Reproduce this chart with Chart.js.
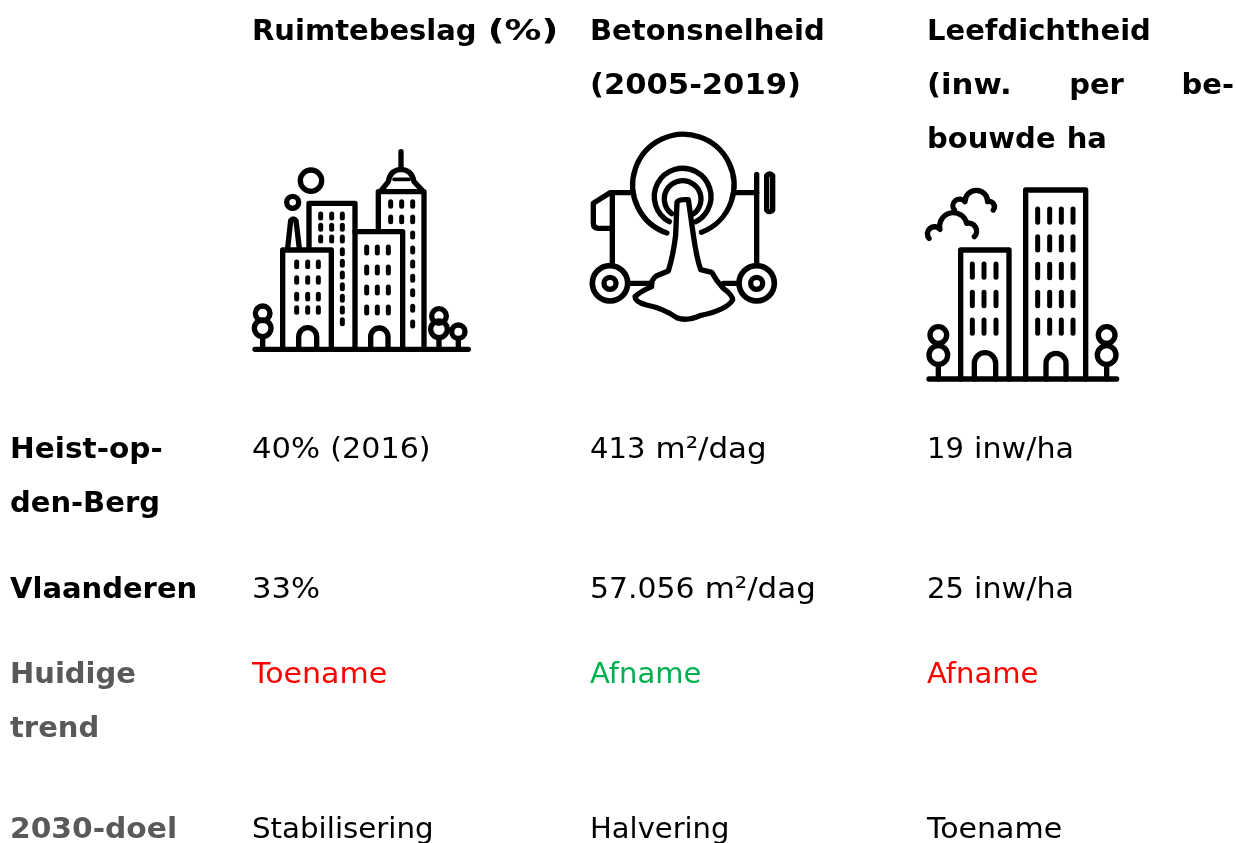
<!DOCTYPE html>
<html>
<head>
<meta charset="utf-8">
<title>Ruimtebeslag</title>
<script src="https://cdn.jsdelivr.net/npm/chart.js@4"></script>
<style>
  html, body { margin: 0; padding: 0; background: #fff; overflow: hidden; }
  canvas { display: block; }
</style>
</head>
<body>
<canvas id="table-chart" width="1236" height="843"></canvas>
<script>
// Table content
const columnHeads = [
  ['Ruimtebeslag (%)'],
  ['Betonsnelheid', '(2005-2019)'],
  ['Leefdichtheid', '(inw. per be-', 'bouwde ha']
];
const rowHeads = [['Heist-op-', 'den-Berg'], ['Vlaanderen'], ['Huidige', 'trend'], ['2030-doel']];
const ruimtebeslag = ['40% (2016)', '33%', 'Toename', 'Stabilisering'];
const betonsnelheid = ['413 m²/dag', '57.056 m²/dag', 'Afname', 'Halvering'];
const leefdichtheid = ['19 inw/ha', '25 inw/ha', 'Afname', 'Toename'];

// Layout, in page pixels
const colX = [10, 252, 590, 927];
const headY = 40;
const rowY = [458, 598, 683, 838];
const lineHeight = 54;
const justifyWidth = 307;
const wordGap = 1;
const bodyFont = '29px "DejaVu Sans"';
const boldFont = 'bold 29px "DejaVu Sans"';
const RED = '#ff0000', GREEN = '#00b050', GREY = '#58595b';
const trendColours = [RED, GREEN, RED];

// The original font runs wider on these words than DejaVu does
const wordStretch = {
  '(%)': 1.27, '(2005-2019)': 1.055, '2030-doel': 1.025, 'Heist-op-': 1.02, '(inw.': 1.06,
  '40%': 1.057, '33%': 1.057, '(2016)': 1.04, 'm²/dag': 1.065, 'inw/ha': 1.04, 'Toename': 1.035,
  '57.056': 1.03, 'Stabilisering': 1.01
};

// Icons are drawn on small canvases, at 3x, and used as point styles
function makeIcon(w, h, draw) {
  const c = document.createElement('canvas');
  c.width = w; c.height = h;
  const g = c.getContext('2d');
  g.filter = 'blur(0.4px)';
  g.scale(1 / 3, 1 / 3);
  g.strokeStyle = '#000';
  g.lineCap = 'round';
  g.lineJoin = 'round';
  draw(g);
  return c;
}
function path(g, d, lw) {
  g.lineWidth = lw || 16;
  g.stroke(new Path2D(d));
}
function pills(g, xs, ys, half) {
  g.lineWidth = 15;
  ys.forEach(y => xs.forEach(x => {
    g.beginPath(); g.moveTo(x, y - half); g.lineTo(x, y + half); g.stroke();
  }));
}
function ring(g, x, y, r, lw) {
  g.lineWidth = lw || 16;
  g.beginPath(); g.arc(x, y, r, 0, Math.PI * 2); g.stroke();
}
const rad = d => d * Math.PI / 180;

const cityIcon = makeIcon(240, 220, g => {
  path(g, 'M45 628H685');
  path(g, 'M128 628V330H274V628');
  path(g, 'M176 628V590A27 27 0 0 1 230 590V628');
  pills(g, [170, 203, 235], [373, 420, 470, 510], 7);
  path(g, 'M207 325V190H345V628');
  pills(g, [242, 275, 307], [228, 262, 297], 6);
  pills(g, [307], [335, 370, 405, 440, 475, 510, 545], 6);
  path(g, 'M345 275H488V628');
  path(g, 'M392 628V590A26 26 0 0 1 444 590V628');
  pills(g, [380, 412, 445], [330, 390, 450, 510], 9);
  path(g, 'M415 270V155H552V628');
  pills(g, [452, 485, 518], [192, 238], 7);
  pills(g, [518], [285, 330, 372, 415, 458, 505, 552], 6);
  path(g, 'M425 150L445 125Q450 90 483 88Q516 90 522 125L546 150');
  path(g, 'M462 118H508', 11);
  path(g, 'M483 35V85');
  path(g, 'M143 325L152 242Q160 232 168 242L178 325');
  ring(g, 158, 187, 18);
  ring(g, 213, 122, 32);
  ring(g, 68, 520, 22);
  ring(g, 68, 565, 25);
  path(g, 'M68 592V628');
  ring(g, 597, 528, 22);
  ring(g, 597, 568, 25);
  path(g, 'M597 595V628');
  ring(g, 655, 575, 20);
  path(g, 'M655 597V628');
});

const mixerIcon = makeIcon(210, 205, g => {
  g.lineWidth = 16;
  g.beginPath(); g.arc(310, 180, 152, rad(109), rad(69)); g.stroke();
  g.beginPath(); g.arc(308, 215, 85, rad(118), rad(62)); g.stroke();
  g.beginPath(); g.arc(308, 222, 55, rad(127), rad(53)); g.stroke();
  path(g, 'M291 232Q295 222 325 224L340 330Q350 400 362 434L395 442Q410 470 430 490Q458 510 458 525Q440 555 360 572Q320 590 290 578Q250 550 200 540Q165 530 165 515Q180 500 215 485Q212 465 230 452L265 438Q280 390 287 330Z');
  path(g, 'M155 203H90L40 235V295Q40 310 55 310H97');
  path(g, 'M97 203V420');
  path(g, 'M465 203H530');
  path(g, 'M530 148V420');
  path(g, 'M560 152Q568 142 578 152V255Q568 265 560 255Z');
  ring(g, 90, 475, 53, 17);
  ring(g, 90, 475, 18);
  ring(g, 530, 475, 53, 17);
  ring(g, 530, 475, 18);
  path(g, 'M148 475H215');
  path(g, 'M430 475H475');
});

const towersIcon = makeIcon(215, 210, g => {
  path(g, 'M42 597H605');
  path(g, 'M137 597V210H282V597');
  path(g, 'M178 597V550A32 32 0 0 1 242 550V597');
  pills(g, [172, 207, 243], [272, 357, 440], 20);
  path(g, 'M332 597V30H512V597');
  path(g, 'M393 597V550A30 30 0 0 1 453 550V597');
  pills(g, [368, 404, 439, 474], [107, 190, 273, 357, 440], 20);
  ring(g, 70, 465, 25);
  ring(g, 70, 525, 28);
  path(g, 'M70 555V597');
  ring(g, 575, 465, 25);
  ring(g, 575, 525, 28);
  path(g, 'M575 555V597');
  path(g, 'M42 175A18 18 0 0 1 75 148A41 41 0 0 1 155 130A24 24 0 0 1 178 170');
  path(g, 'M118 90A20 20 0 0 1 150 65A34 34 0 0 1 218 65A16 16 0 0 1 235 90');
});

// Build the cell list from the arrays above
const cells = [];
function addCell(x, y, text, font, color, justify) {
  cells.push({ x, y, text, font, color, justify: !!justify });
}
columnHeads.forEach((lines, c) => lines.forEach((line, i) => {
  addCell(colX[c + 1], headY + i * lineHeight, line, boldFont, '#000', line.startsWith('(inw'));
}));
rowHeads.forEach((lines, r) => lines.forEach((line, i) => {
  addCell(colX[0], rowY[r] + i * lineHeight, line, boldFont, r >= 2 ? GREY : '#000');
}));
[ruimtebeslag, betonsnelheid, leefdichtheid].forEach((vals, c) => vals.forEach((v, r) => {
  addCell(colX[c + 1], rowY[r], v, bodyFont, r === 2 ? trendColours[c] : '#000');
}));

const cellText = {
  id: 'cellText',
  afterDatasetsDraw(chart) {
    const ctx = chart.ctx;
    const pts = chart.getDatasetMeta(0).data;
    const wordWidth = w => ctx.measureText(w).width * (wordStretch[w] || 1);
    ctx.save();
    ctx.textBaseline = 'alphabetic';
    ctx.textAlign = 'left';
    cells.forEach((cell, i) => {
      ctx.font = cell.font;
      ctx.fillStyle = cell.color;
      const words = cell.text.split(' ');
      let gap = ctx.measureText(' ').width + wordGap;
      if (cell.justify) {
        // text-align: justify
        const used = words.reduce((s, w) => s + wordWidth(w), 0);
        gap = (justifyWidth - used) / (words.length - 1);
      }
      let x = pts[i].x;
      words.forEach(w => {
        ctx.save();
        ctx.translate(x, pts[i].y);
        ctx.scale(wordStretch[w] || 1, 1);
        ctx.fillText(w, 0, 0);
        ctx.restore();
        x += wordWidth(w) + gap;
      });
    });
    ctx.restore();
  }
};

new Chart(document.getElementById('table-chart').getContext('2d'), {
  type: 'scatter',
  data: {
    datasets: [
      { data: cells, pointRadius: 0 },
      {
        data: [{ x: 360, y: 250 }, { x: 685, y: 227.5 }, { x: 1022.5, y: 285 }],
        pointStyle: [cityIcon, mixerIcon, towersIcon],
        pointRadius: 10
      }
    ]
  },
  plugins: [cellText],
  options: {
    responsive: false,
    animation: false,
    layout: { padding: 0, autoPadding: false },
    plugins: { legend: { display: false }, tooltip: { enabled: false } },
    scales: {
      x: { type: 'linear', display: false, min: 0, max: 1236 },
      y: { type: 'linear', display: false, min: 0, max: 843, reverse: true }
    }
  }
});
</script>
</body>
</html>
